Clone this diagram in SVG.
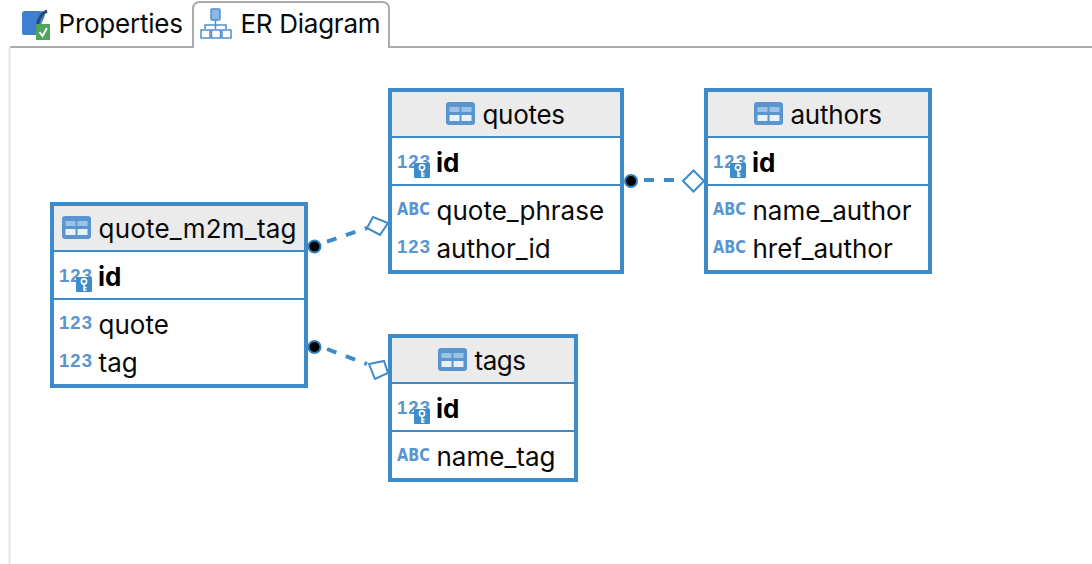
<svg xmlns="http://www.w3.org/2000/svg" xmlns:xlink="http://www.w3.org/1999/xlink" width="1092" height="564" viewBox="0 0 1092 564">
<style>
text{font-family:"Inter","Liberation Sans",sans-serif;fill:#0a0a0a}
.t{font-size:26px}
.b{font-size:26px;font-weight:700;fill:#000}
.box{fill:#fff;stroke:#3d8bc9;stroke-width:4}
.hd{fill:#ebebeb}
.div{stroke:#3d8bc9;stroke-width:2}
.ty{font-family:"Liberation Sans",sans-serif;font-size:18.500px;font-weight:700;fill:#5b95d0}
.abc{font-family:"DejaVu Sans",sans-serif;font-size:17.500px;font-weight:700;fill:#5b95d0}
.con{fill:none;stroke:#3d8bc9;stroke-width:4;stroke-dasharray:10 10}
.dot{fill:#000;stroke:#2f7fbf;stroke-width:2}
.dia{fill:#fff;stroke:#3d8bc9;stroke-width:2}
</style>
<defs>
<g id="tbl"><rect x="0" y="0" width="29" height="23" rx="3" fill="#5b95d0"/><rect x="3.500" y="5" width="10" height="5" fill="#9cc3e6"/><rect x="15.500" y="5" width="10" height="5" fill="#9cc3e6"/><rect x="3.500" y="13" width="10" height="6" fill="#e8f0f8"/><rect x="15.500" y="13" width="10" height="6" fill="#e8f0f8"/></g>
<g id="key"><rect x="0" y="0" width="16" height="15" rx="1" fill="#3f8ccb"/><circle cx="8" cy="4.500" r="2.600" fill="none" stroke="#fff" stroke-width="1.600"/><path d="M8 7V14M8 10.500H10.500M8 13H10.500" stroke="#fff" stroke-width="1.500" fill="none"/></g>
</defs>
<g id="tabs">
<path d="M10 47H193V9Q193 2 200 2H382Q389 2 389 9V47H1092" fill="none" stroke="#ababab" stroke-width="2"/>
<path d="M9.500 47V564" stroke="#e3e3e3" stroke-width="2" fill="none"/>
<path d="M22 33V14Q22 11 25 11H40Q47 11 44 18L36 35H24Q22 35 22 33Z" fill="#3f7fd0"/>
<path d="M47 11Q39 14 37 27" stroke="#2b4a70" stroke-width="3" fill="none"/>
<rect x="36" y="24" width="14" height="16" fill="#4fa35a"/>
<path d="M39.500 32L42.500 36L47 28" stroke="#fff" stroke-width="2" fill="none"/>
<text class="t" x="58.500" y="33" textLength="124.500">Properties</text>
<rect x="211" y="9" width="9" height="11" rx="1" fill="#8db8e2" stroke="#4f8fd0" stroke-width="1.500"/>
<path d="M215.500 20V24M205 29V25H226V29M215.500 24V29" fill="none" stroke="#4f8fd0" stroke-width="1.500"/>
<rect x="201" y="30" width="9" height="8" fill="#fff" stroke="#4f8fd0" stroke-width="1.500"/>
<rect x="211.500" y="30" width="9" height="8" fill="#fff" stroke="#4f8fd0" stroke-width="1.500"/>
<rect x="222" y="30" width="9" height="8" fill="#fff" stroke="#4f8fd0" stroke-width="1.500"/>
<text class="t" x="240.500" y="33" textLength="140">ER Diagram</text>
</g>
<g id="connectors">
<path class="con" d="M644 180H684"/>
<path class="con" d="M327 241.700L367 228"/>
<path class="con" d="M327 349L367 364"/>
<circle class="dot" cx="631" cy="181" r="6"/>
<path class="dia" d="M683 181L693.500 170.500L704 181L693.500 191.500Z"/>
<circle class="dot" cx="314.500" cy="246.500" r="6"/>
<path class="dia" d="M367 228L373 217L388 223L380 235Z"/>
<circle class="dot" cx="314.500" cy="347" r="6"/>
<path class="dia" d="M369 364L384 361L388 373L375 379Z"/>
</g>
<g id="quotes">
<rect class="box" x="390" y="90" width="232" height="182"/>
<rect class="hd" x="392" y="92" width="228" height="44"/>
<path class="div" d="M390 137H622M390 185H622"/>
<use xlink:href="#tbl" href="#tbl" x="446" y="102"/>
<text class="t" x="482.500" y="124" textLength="82.500">quotes</text>
<text class="ty" x="397" y="168" textLength="33">123</text><use xlink:href="#key" href="#key" x="414" y="163"/>
<text class="b" x="436" y="172">id</text>
<text class="abc" x="397" y="215" textLength="33" lengthAdjust="spacingAndGlyphs">ABC</text>
<text class="t" x="436.500" y="220">quote_phrase</text>
<text class="ty" x="397" y="253" textLength="33">123</text>
<text class="t" x="436.500" y="258">author_id</text>
</g>
<g id="authors">
<rect class="box" x="706" y="90" width="224" height="182"/>
<rect class="hd" x="708" y="92" width="220" height="44"/>
<path class="div" d="M706 137H930M706 185H930"/>
<use xlink:href="#tbl" href="#tbl" x="754" y="102"/>
<text class="t" x="790.500" y="124" textLength="91.500">authors</text>
<text class="ty" x="713" y="168" textLength="33">123</text><use xlink:href="#key" href="#key" x="730" y="163"/>
<text class="b" x="752" y="172">id</text>
<text class="abc" x="713" y="215" textLength="33" lengthAdjust="spacingAndGlyphs">ABC</text>
<text class="t" x="752.500" y="220">name_author</text>
<text class="abc" x="713" y="253" textLength="33" lengthAdjust="spacingAndGlyphs">ABC</text>
<text class="t" x="752.500" y="258">href_author</text>
</g>
<g id="quote_m2m_tag">
<rect class="box" x="52" y="204" width="254" height="182"/>
<rect class="hd" x="54" y="206" width="250" height="44"/>
<path class="div" d="M52 251H306M52 299H306"/>
<use xlink:href="#tbl" href="#tbl" x="62" y="216"/>
<text class="t" x="98.500" y="238" textLength="198">quote_m2m_tag</text>
<text class="ty" x="59" y="282" textLength="33">123</text><use xlink:href="#key" href="#key" x="76" y="277"/>
<text class="b" x="98" y="286">id</text>
<text class="ty" x="59" y="329" textLength="33">123</text>
<text class="t" x="98.500" y="334">quote</text>
<text class="ty" x="59" y="367" textLength="33">123</text>
<text class="t" x="98.500" y="372">tag</text>
</g>
<g id="tags">
<rect class="box" x="390" y="336" width="186" height="144"/>
<rect class="hd" x="392" y="338" width="182" height="44"/>
<path class="div" d="M390 383H576M390 431H576"/>
<use xlink:href="#tbl" href="#tbl" x="438" y="348"/>
<text class="t" x="474.500" y="370" textLength="51.500">tags</text>
<text class="ty" x="397" y="414" textLength="33">123</text><use xlink:href="#key" href="#key" x="414" y="409"/>
<text class="b" x="436" y="418">id</text>
<text class="abc" x="397" y="461" textLength="33" lengthAdjust="spacingAndGlyphs">ABC</text>
<text class="t" x="436.500" y="466">name_tag</text>
</g>
</svg>
